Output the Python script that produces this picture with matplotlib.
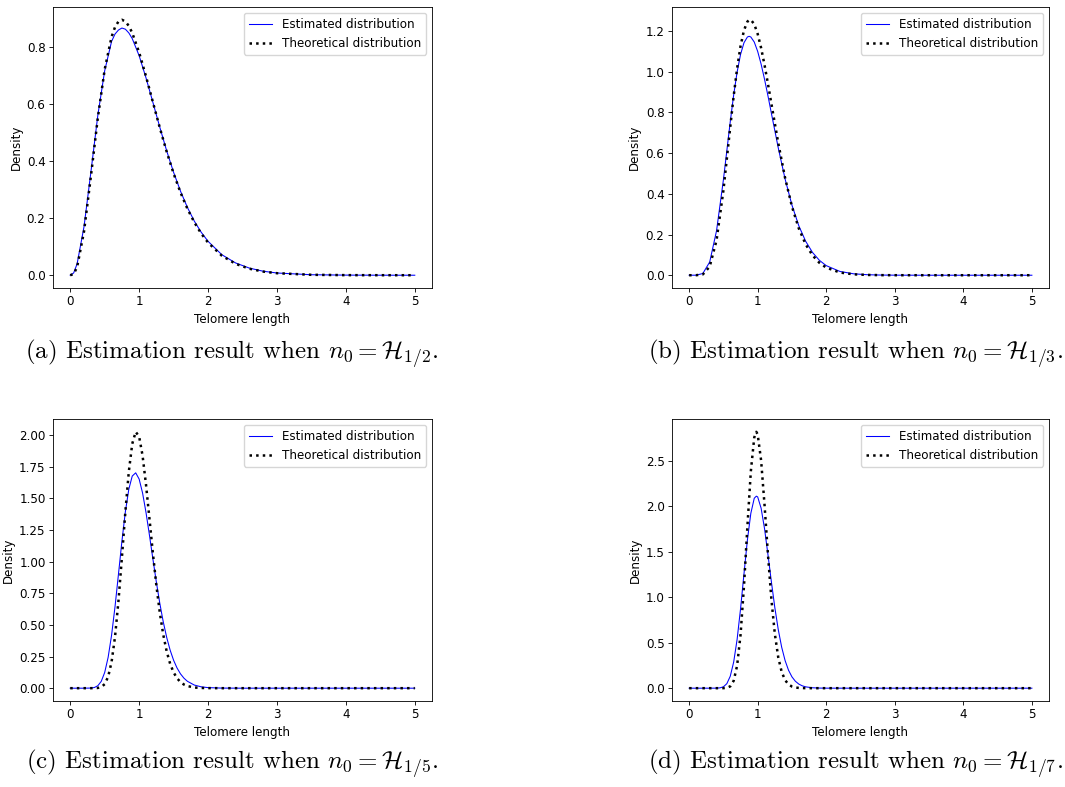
import matplotlib
matplotlib.use("Agg")
import matplotlib.pyplot as plt

# values
x_a = [0, 0.05, 0.1, 0.2, 0.3, 0.4, 0.5, 0.6, 0.65, 0.7, 0.75, 0.8, 0.85, 0.9, 1.0, 1.1,
       1.2, 1.3, 1.4, 1.5, 1.6, 1.7, 1.8, 1.9, 2.0, 2.2, 2.4, 2.6, 2.8, 3.0, 3.5, 4.0,
       4.5, 5.0]
est_a = [0, 0.008, 0.040, 0.170, 0.362, 0.560, 0.717, 0.820, 0.846, 0.860, 0.867, 0.863,
         0.850, 0.830, 0.770, 0.692, 0.606, 0.519, 0.436, 0.361, 0.295, 0.238, 0.190,
         0.151, 0.119, 0.072, 0.043, 0.025, 0.014, 0.0078, 0.0017, 0.0004, 0.0001, 0.0]
theo_a = [0, 0.0044, 0.0286, 0.1534, 0.347, 0.5513, 0.7218, 0.836, 0.8703, 0.890, 0.896,
          0.8904, 0.8745, 0.8498, 0.7815, 0.6972, 0.6068, 0.5171, 0.4329, 0.3569, 0.2904,
          0.2335, 0.1858, 0.1465, 0.1145, 0.0685, 0.0400, 0.0228, 0.0128, 0.0071, 0.0015,
          0.0003, 0.0001, 0.0]

x_b = [0, 0.1, 0.2, 0.3, 0.4, 0.5, 0.6, 0.65, 0.7, 0.75, 0.8, 0.85, 0.875, 0.9, 0.95,
       1.0, 1.05, 1.1, 1.15, 1.2, 1.3, 1.4, 1.5, 1.6, 1.7, 1.8, 1.9, 2.0, 2.2, 2.4, 2.6,
       2.8, 3.0, 3.5, 4.0, 4.5, 5.0]
est_b = [0, 0.0002, 0.0085, 0.065, 0.219, 0.469, 0.755, 0.8867, 0.9986, 1.0849, 1.1426,
         1.1708, 1.1742, 1.1709, 1.1460, 1.100, 1.0375, 0.9631, 0.8813, 0.7957, 0.6262,
         0.4727, 0.3443, 0.243, 0.1669, 0.1119, 0.0734, 0.0472, 0.0186, 0.0069, 0.0025,
         0.0008, 0.0003, 0, 0, 0, 0]
theo_b = [0, 0.0000, 0.0041, 0.0424, 0.172, 0.417, 0.729, 0.8817, 1.017, 1.1263, 1.2035,
          1.2465, 1.2540, 1.2555, 1.2338, 1.1858, 1.1171, 1.0334, 0.9404, 0.843, 0.650,
          0.478, 0.3376, 0.230, 0.152, 0.0976, 0.0611, 0.0375, 0.0133, 0.0044, 0.0014,
          0.0004, 0.0001, 0, 0, 0, 0]

x_c = [0, 0.1, 0.2, 0.3, 0.35, 0.4, 0.45, 0.5, 0.55, 0.6, 0.65, 0.7, 0.75, 0.8, 0.85,
       0.9, 0.95, 1.0, 1.05, 1.1, 1.15, 1.2, 1.25, 1.3, 1.35, 1.4, 1.45, 1.5, 1.55, 1.6,
       1.65, 1.7, 1.8, 1.9, 2.0, 2.2, 2.5, 3.0, 3.5, 4.0, 4.5, 5.0]
est_c = [0, 0, 0, 0.001, 0.0053, 0.0191, 0.0537, 0.1239, 0.2435, 0.4186, 0.6441, 0.9012,
         1.1615, 1.3942, 1.572, 1.6768, 1.7023, 1.6531, 1.5424, 1.3877, 1.2079, 1.0199,
         0.8377, 0.6706, 0.5242, 0.401, 0.3005, 0.2209, 0.1596, 0.1133, 0.0793, 0.0546,
         0.0249, 0.0108, 0.0044, 0.0007, 0, 0, 0, 0, 0, 0]
theo_c = [0, 0, 0, 0, 0.0003, 0.0018, 0.0089, 0.0318, 0.0898, 0.2075, 0.406, 0.6888,
          1.0334, 1.3936, 1.7107, 1.932, 2.0265, 1.9884, 1.8374, 1.6075, 1.3386, 1.065,
          0.8128, 0.5969, 0.423, 0.2902, 0.193, 0.1247, 0.0785, 0.0482, 0.0289, 0.0169,
          0.0055, 0.0017, 0.0005, 0, 0, 0, 0, 0, 0, 0]

x_d = [0, 0.1, 0.2, 0.3, 0.4, 0.45, 0.5, 0.55, 0.6, 0.65, 0.7, 0.75, 0.8, 0.85, 0.9,
       0.95, 0.98, 1.0, 1.05, 1.1, 1.15, 1.2, 1.25, 1.3, 1.35, 1.4, 1.45, 1.5, 1.55, 1.6,
       1.65, 1.7, 1.8, 1.9, 2.0, 2.5, 3.0, 3.5, 4.0, 4.5, 5.0]
est_d = [0, 0, 0, 0, 0.0006, 0.0035, 0.015, 0.0497, 0.1314, 0.2878, 0.5365, 0.8719,
         1.2555, 1.628, 1.9205, 2.0863, 2.109, 2.1008, 1.977, 1.752, 1.4664, 1.1675,
         0.8861, 0.6444, 0.4502, 0.3033, 0.1972, 0.1242, 0.0759, 0.0451, 0.0261, 0.0147,
         0.0044, 0.0012, 0.0003, 0, 0, 0, 0, 0, 0]
theo_d = [0, 0, 0, 0, 0, 0, 0.0004, 0.0036, 0.0203, 0.0819, 0.2478, 0.5863, 1.1208,
          1.7753, 2.3814, 2.754, 2.816, 2.787, 2.5018, 2.0136, 1.4674, 0.9767, 0.598,
          0.3389, 0.179, 0.0886, 0.0412, 0.0181, 0.0075, 0.003, 0.0011, 0.0004, 0, 0, 0,
          0, 0, 0, 0, 0, 0]

captions = [
    r"(a) Estimation result when $n_0 = \mathcal{H}_{1/2}$.",
    r"(b) Estimation result when $n_0 = \mathcal{H}_{1/3}$.",
    r"(c) Estimation result when $n_0 = \mathcal{H}_{1/5}$.",
    r"(d) Estimation result when $n_0 = \mathcal{H}_{1/7}$.",
]

S = 0.764  # the reference panels are default matplotlib figures shrunk by this
plt.rcParams.update({
    "font.size": 8.6,
    "axes.linewidth": 0.8 * S,
    "xtick.major.size": 3.5 * S,
    "ytick.major.size": 3.5 * S,
    "xtick.major.width": 0.8 * S,
    "ytick.major.width": 0.8 * S,
    "xtick.major.pad": 3.5 * S,
    "ytick.major.pad": 3.5 * S,
    "axes.labelpad": 4.0 * S,
    "mathtext.fontset": "cm",
})

W, H = 1065, 787
fig = plt.figure(figsize=(W / 100, H / 100), dpi=100)


def px_axes(left, top, right, bottom):
    return fig.add_axes([left / W, 1 - bottom / H, (right - left) / W, (bottom - top) / H])


boxes = [(53, 7, 432, 288), (672, 7, 1049, 288), (53, 419, 432, 701), (672, 419, 1049, 701)]
panels = [(x_a, est_a, theo_a), (x_b, est_b, theo_b), (x_c, est_c, theo_c), (x_d, est_d, theo_d)]
cap_pos = [(232, 354), (856, 354), (232, 764), (856, 764)]

for box, (xs, est, theo), cap, pos in zip(boxes, panels, captions, cap_pos):
    ax = px_axes(*box)
    ax.plot(xs, est, color="blue", linewidth=1.0 * S, label="Estimated distribution")
    ax.plot(xs, theo, color="black", linestyle=":", linewidth=1.8,
            label="Theoretical distribution")
    ax.set_xlabel("Telomere length")
    ax.set_ylabel("Density")
    ax.legend(loc="upper right")
    fig.text(pos[0] / W, 1 - pos[1] / H, cap, family="cmr10", fontsize=18,
             ha="center", va="center")

fig.savefig("out.png", dpi=100)
